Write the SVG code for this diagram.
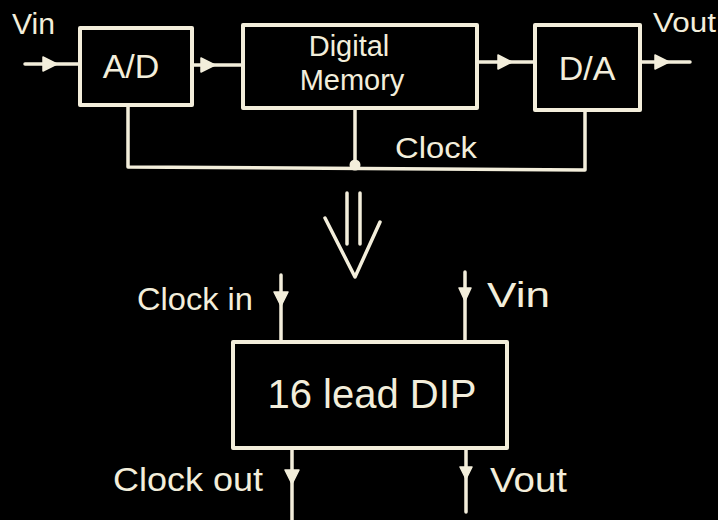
<svg xmlns="http://www.w3.org/2000/svg" width="718" height="520" viewBox="0 0 718 520">
<style>
.bg{fill:#000}
.box{fill:none;stroke:#f3eedb;stroke-width:4;stroke-linejoin:round}
.w{fill:none;stroke:#f3eedb;stroke-width:3.5;stroke-linecap:round;stroke-linejoin:round}
.ah{fill:#f3eedb;stroke:#f3eedb;stroke-width:1.5;stroke-linejoin:round}
.t{fill:#f3eedb;font-family:"Liberation Sans","DejaVu Sans",sans-serif}
</style>
<rect class="bg" x="0" y="0" width="718" height="520"/>
<g id="connectors">
  <path class="w" d="M25,64 L80,64"/>
  <path class="ah" d="M43,57 L57,64 L43,71 Z"/>
  <path class="w" d="M192,65 L243,65"/>
  <path class="ah" d="M201,58 L215,65 L201,72 Z"/>
  <path class="w" d="M477,62 L535,62"/>
  <path class="ah" d="M498,55 L512,62 L498,69 Z"/>
  <path class="w" d="M640,62 L690,62"/>
  <path class="ah" d="M655,55 L669,62 L655,69 Z"/>
  <path class="w" d="M128,105 L128,167 L585,170 L585,110"/>
  <path class="w" d="M355,108 L355,166"/>
  <circle cx="355" cy="165" r="5.5" fill="#f3eedb"/>
  <path class="w" d="M347,193 L347,244 M360,193 L360,244"/>
  <path class="w" d="M325,218 L355,277 L380,222"/>
  <path class="w" d="M281,275 L281,342"/>
  <path class="ah" d="M274,292 L288,292 L281,306 Z"/>
  <path class="w" d="M465,272 L465,342"/>
  <path class="ah" d="M459,288 L471,288 L465,301 Z"/>
  <path class="w" d="M292,448 L292,520"/>
  <path class="ah" d="M285,470 L299,470 L292,484 Z"/>
  <path class="w" d="M466,448 L466,512"/>
  <path class="ah" d="M460,467 L472,467 L466,479 Z"/>
</g>
<g id="vin-top"><text class="t" x="12" y="34" font-size="29" textLength="43" lengthAdjust="spacingAndGlyphs">Vin</text></g>
<g id="vout-top"><text class="t" x="653" y="32" font-size="27" textLength="63" lengthAdjust="spacingAndGlyphs">Vout</text></g>
<g id="ad">
  <rect class="box" x="80" y="28" width="112" height="77"/>
  <text class="t" x="131" y="78" font-size="34" text-anchor="middle">A/D</text>
</g>
<g id="memory">
  <rect class="box" x="243" y="25" width="234" height="83"/>
  <text class="t" x="349" y="56" font-size="29" text-anchor="middle">Digital</text>
  <text class="t" x="352" y="90" font-size="29" text-anchor="middle">Memory</text>
</g>
<g id="da">
  <rect class="box" x="535" y="25" width="105" height="85"/>
  <text class="t" x="587" y="80" font-size="34" text-anchor="middle">D/A</text>
</g>
<g id="clock-label"><text class="t" x="395" y="158" font-size="30" textLength="82" lengthAdjust="spacingAndGlyphs">Clock</text></g>
<g id="dip">
  <rect class="box" x="233" y="342" width="274" height="106"/>
  <text class="t" x="372" y="408" font-size="40" text-anchor="middle">16 lead DIP</text>
</g>
<g id="clock-in"><text class="t" x="137" y="310" font-size="31" textLength="116" lengthAdjust="spacingAndGlyphs">Clock in</text></g>
<g id="vin-bottom"><text class="t" x="487" y="307" font-size="35" textLength="63" lengthAdjust="spacingAndGlyphs">Vin</text></g>
<g id="clock-out"><text class="t" x="113" y="491" font-size="34" textLength="150" lengthAdjust="spacingAndGlyphs">Clock out</text></g>
<g id="vout-bottom"><text class="t" x="490" y="492" font-size="35" textLength="77" lengthAdjust="spacingAndGlyphs">Vout</text></g>
</svg>
